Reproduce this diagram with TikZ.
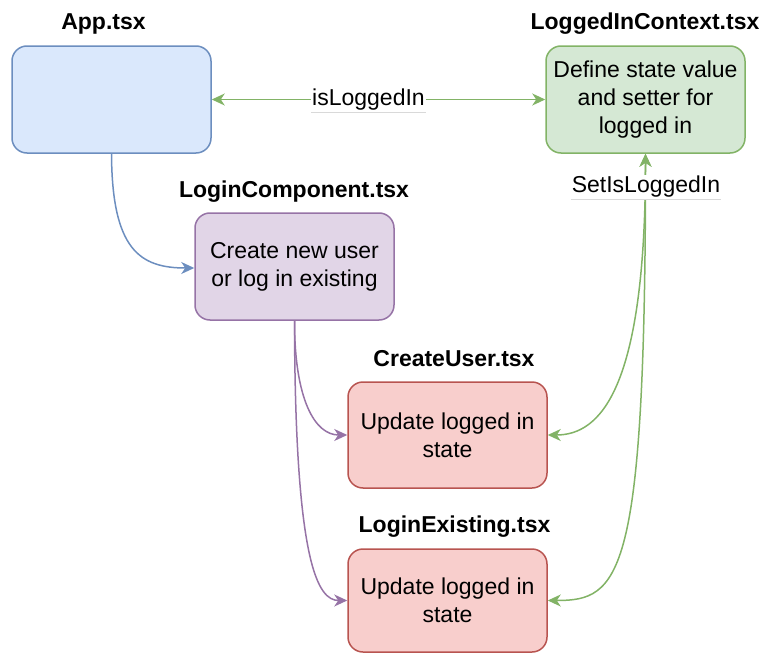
\documentclass[tikz,border=0pt]{standalone}
\usepackage{fontspec}
\setmainfont{Liberation Sans}
\usetikzlibrary{arrows.meta}

\definecolor{bluefill}{HTML}{DAE8FC}\definecolor{bluedraw}{HTML}{6C8EBF}
\definecolor{greenfill}{HTML}{D5E8D4}\definecolor{greendraw}{HTML}{82B366}
\definecolor{purplefill}{HTML}{E1D5E7}\definecolor{purpledraw}{HTML}{9673A6}
\definecolor{redfill}{HTML}{F8CECC}\definecolor{reddraw}{HTML}{B85450}
\definecolor{rulegray}{HTML}{D9D9D9}

\tikzset{
  box/.style={draw, rounded corners=15pt, line width=1.5pt, minimum width=199pt,
    minimum height=107pt, inner sep=0pt, align=center,
    font=\fontsize{23}{28}\selectfont},
  title/.style={anchor=base, inner sep=0pt, font=\fontsize{23}{27}\selectfont\bfseries},
  edgelabel/.style={fill=white, inner xsep=1pt, inner ysep=2pt, text height=16pt,
    text depth=5pt, font=\fontsize{23}{27}\selectfont},
  underline/.style={draw=rulegray, line width=0.8pt},
  tip/.tip={Stealth[length=13pt, width=12pt, inset=4pt]},
  conn/.style={line width=1.5pt, -tip},
  bothconn/.style={line width=1.5pt, tip-tip}
}

\begin{document}
\begin{tikzpicture}[x=1pt, y=-1pt]
\useasboundingbox (0,0) rectangle (764,653);

% component boxes
\node[box, fill=bluefill, draw=bluedraw] (app) at (111.5,99.5) {};
\node[box, fill=greenfill, draw=greendraw] (ctx) at (645.5,99.5)
  {Define state value\\and setter for\\logged in};
\node[box, fill=purplefill, draw=purpledraw] (login) at (294.5,266.5)
  {Create new user\\or log in existing};
\node[box, fill=redfill, draw=reddraw, minimum height=106pt] (cu) at (447.5,435)
  {Update logged in\\state};
\node[box, fill=redfill, draw=reddraw, minimum height=103pt] (le) at (447.5,600.5)
  {Update logged in\\state};

% file names above the boxes
\node[title] (tapp) at (103.5,30) {App.tsx};
\node[title] (tctx) at (645,29.5) {LoggedInContext.tsx};
\node[title] (tlogin) at (294,197) {LoginComponent.tsx};
\node[title] (tcu) at (454,366) {CreateUser.tsx};
\node[title] (tle) at (454.5,532) {LoginExisting.tsx};

% App renders the login component
\coordinate (loginin) at ([yshift=-1.5pt]login.west);
\draw[conn, bluedraw] (app.south) .. controls (112,250) and (140,268) .. (loginin);

% login component renders the two forms
\draw[conn, purpledraw] (login.south) .. controls (294.5,400) and (315,435) .. (cu.west);
\draw[conn, purpledraw] (login.south) .. controls (295,565) and (318,600.5) .. (le.west);

% shared logged-in state
\draw[bothconn, greendraw] (app.east) -- (ctx.west);
\node[edgelabel] (islbl) at (368.5,99.5) {isLoggedIn};
\draw[underline] (islbl.south west) -- (islbl.south east);

% setter passed down to the forms
\draw[bothconn, greendraw] (ctx.south) .. controls (645.5,390) and (600,435) .. (cu.east);
\draw[bothconn, greendraw] (ctx.south) .. controls (645.5,580) and (620,600.5) .. (le.east);
\node[edgelabel] (setlbl) at (646,187) {SetIsLoggedIn};
\draw[underline] (setlbl.south west) -- (setlbl.south east);
\end{tikzpicture}
\end{document}
